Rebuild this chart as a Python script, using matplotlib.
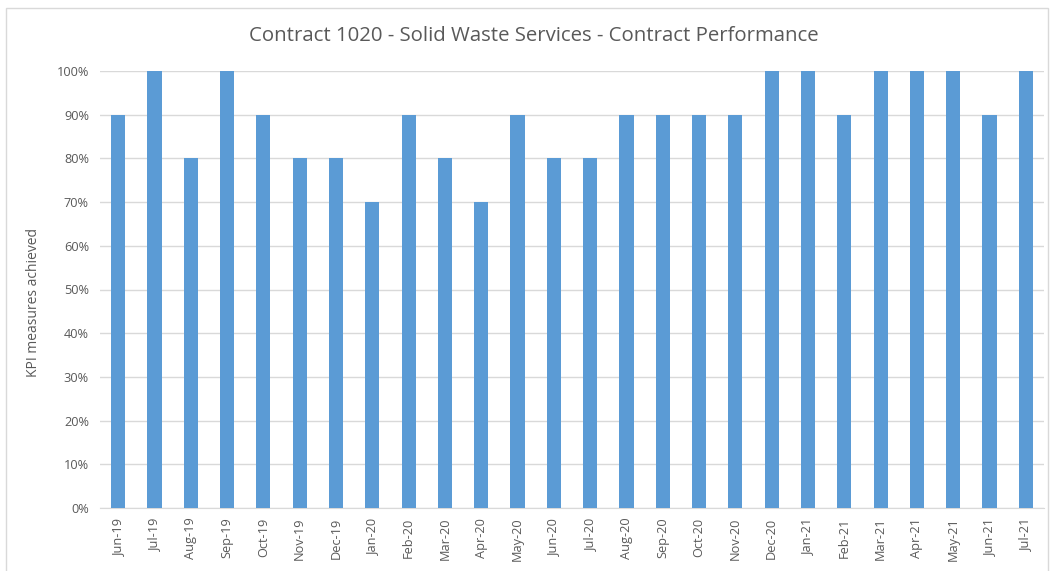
import matplotlib.pyplot as plt
from matplotlib.patches import Rectangle
from matplotlib.ticker import PercentFormatter

# monthly KPI results (% of measures achieved)
months = ['Jun-19', 'Jul-19', 'Aug-19', 'Sep-19', 'Oct-19', 'Nov-19', 'Dec-19',
          'Jan-20', 'Feb-20', 'Mar-20', 'Apr-20', 'May-20', 'Jun-20', 'Jul-20',
          'Aug-20', 'Sep-20', 'Oct-20', 'Nov-20', 'Dec-20', 'Jan-21', 'Feb-21',
          'Mar-21', 'Apr-21', 'May-21', 'Jun-21', 'Jul-21']
achieved = [90, 100, 80, 100, 90, 80, 80, 70, 90, 80, 70, 90, 80, 80,
            90, 90, 90, 90, 100, 100, 90, 100, 100, 100, 90, 100]

plt.rcParams['font.family'] = ['Open Sans', 'DejaVu Sans']
text_col = '#595959'

fig = plt.figure(figsize=(10.54, 5.71), dpi=100)
ax = fig.add_axes([100 / 1054, 1 - 508 / 571, 944 / 1054, 437 / 571])

x = range(len(months))
ax.bar(x, achieved, width=0.39, color='#5b9bd5', zorder=3)

ax.set_xlim(-0.5, len(months) - 0.5)
ax.set_ylim(0, 100)
ax.set_yticks(range(0, 101, 10))
ax.yaxis.set_major_formatter(PercentFormatter(decimals=0))
ax.set_xticks(list(x))
ax.set_xticklabels(months, rotation=90)
ax.tick_params(axis='both', length=0, labelsize=9.2, colors=text_col)
ax.tick_params(axis='x', pad=7)
ax.tick_params(axis='y', pad=8)
ax.grid(axis='y', color='#d9d9d9', linewidth=1, zorder=0)
for s in ['top', 'right', 'left']:
    ax.spines[s].set_visible(False)
ax.spines['bottom'].set_color('#d9d9d9')

ax.set_ylabel('KPI measures achieved', fontsize=10, color=text_col)
# label sits a little below the middle of the plot area
ax.yaxis.set_label_coords(-0.062, 0.47)
fig.text(534 / 1054, 1 - 36 / 571, 'Contract 1020 - Solid Waste Services - Contract Performance',
         ha='center', va='center', fontsize=14.7, color=text_col)

# chart outline
fig.patches.append(Rectangle((6 / 1054, -0.05), 1042 / 1054, 1.05 - 8 / 571,
                             transform=fig.transFigure, fill=False,
                             edgecolor='#d9d9d9', linewidth=1))

fig.savefig('out.png', dpi=100)
